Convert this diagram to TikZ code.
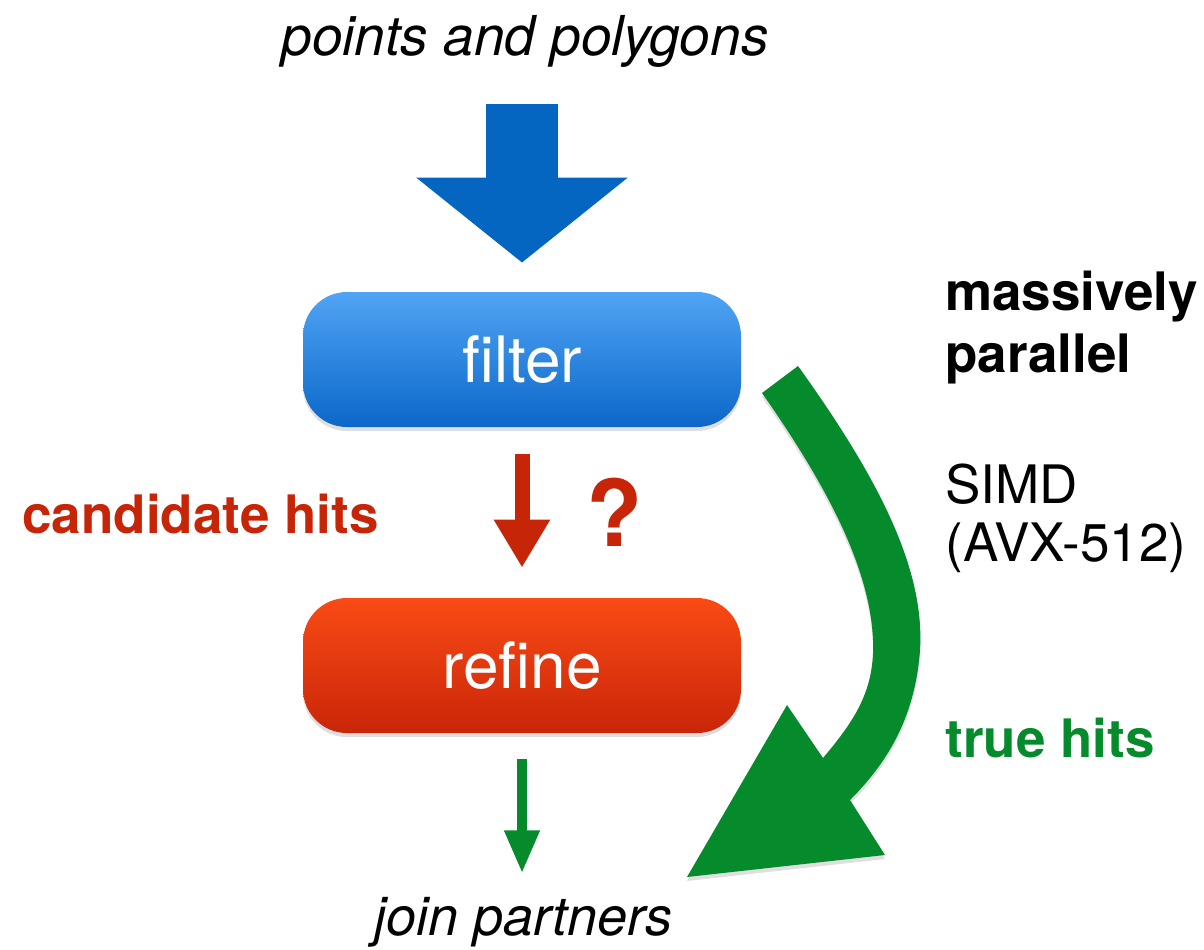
\documentclass[tikz,border=0pt]{standalone}
\usepackage{fontspec}
\setmainfont{TeX Gyre Heros}
\usetikzlibrary{arrows.meta}
\usetikzlibrary{shadows}

\definecolor{arrowblue}{RGB}{5,102,193}
\definecolor{boxbluetop}{RGB}{80,164,244}
\definecolor{boxbluebot}{RGB}{11,103,201}
\definecolor{hitred}{RGB}{199,37,8}
\definecolor{boxredtop}{RGB}{249,75,21}
\definecolor{boxredbot}{RGB}{201,37,8}
\definecolor{hitgreen}{RGB}{5,138,44}

\begin{document}
\begin{tikzpicture}[x=0.5pt,y=-0.5pt,
    box/.style={rounded corners=22pt, minimum width=219pt, minimum height=67.5pt,
      inner sep=0pt, text=white, font=\fontsize{32}{38}\selectfont,
      drop shadow={opacity=0.25, shadow xshift=0pt, shadow yshift=-2pt}},
    label/.style={inner sep=0pt, font=\fontsize{26.5}{31}\selectfont},
    boldlabel/.style={inner sep=0pt, font=\fontsize{26.5}{31}\selectfont\bfseries},
    bigarrow/.style={draw=arrowblue, line width=36pt,
      -{Triangle[width=103.5pt,length=42.5pt]}},
    thinarrow/.style={line width=7.5pt, -{Triangle[width=26.5pt,length=24pt]}}]
  \useasboundingbox (0,0) rectangle (1204,949);

  % input and output
  \node[label, anchor=base, font=\fontsize{27.5}{33}\selectfont\itshape] (pts) at (525,55) {points and polygons};
  \node[label, anchor=base, font=\fontsize{27}{33}\selectfont\itshape] (join) at (523,935) {join partners};

  % the two steps
  \node[box, top color=boxbluetop, bottom color=boxbluebot] (filter) at (522,359.5) {filter};
  \node[box, top color=boxredtop, bottom color=boxredbot] (refine) at (522,665.5) {refine};

  % arrows between the steps
  \coordinate (blueTop) at (522,104);
  \draw[bigarrow] (blueTop) -- ([yshift=14.5pt]filter.north);
  \draw[thinarrow, draw=hitred, hitred] ([yshift=-13.5pt]filter.south) -- ([yshift=15pt]refine.north);
  \draw[thinarrow, draw=hitgreen, hitgreen, line width=5pt,
    -{Triangle[width=16.5pt,length=21.5pt]}] ([yshift=-13pt]refine.south) -- ([yshift=-70pt]refine.south);

  % red labels
  \node[boldlabel, anchor=base west, text=hitred] (cand) at (22,533) {candidate hits};
  \node[label, anchor=base, text=hitred, font=\fontsize{46}{54}\selectfont\bfseries] (quest) at (615,546) {?};

  % green curved arrow
  \fill[hitgreen, drop shadow={opacity=0.25, shadow xshift=0pt, shadow yshift=-2pt}]
    (762,393) -- (798,366)
    .. controls (880,480) and (925,570) .. (920,650)
    .. controls (915,720) and (885,765) .. (850,800)
    -- (885,855) -- (687,877) -- (787,705) -- (823,758)
    .. controls (855,720) and (875,690) .. (873,640)
    .. controls (870,570) and (830,490) .. (762,393) -- cycle;

  % right labels
  \node[boldlabel, anchor=base west] (mass) at (945,310) {massively};
  \node[boldlabel, anchor=base west] (para) at (945,372) {parallel};
  \node[label, anchor=base west] (simd) at (945,503) {SIMD};
  \node[label, anchor=base west] (avx) at (945,561) {(AVX-512)};
  \node[boldlabel, anchor=base west, text=hitgreen] (true) at (945,757) {true hits};
\end{tikzpicture}
\end{document}
